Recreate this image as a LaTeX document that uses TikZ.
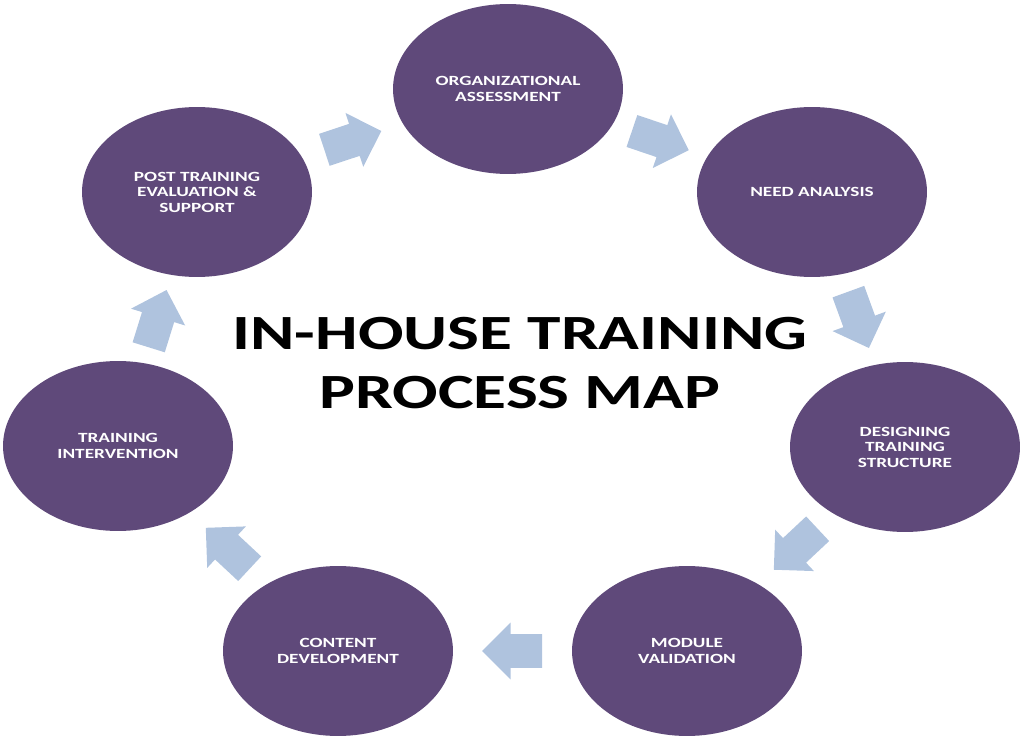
\documentclass[tikz,border=0pt]{standalone}
\usepackage{fontspec}
\setmainfont{Carlito}[FakeStretch=1.37]
\usetikzlibrary{calc,shapes.geometric,shapes.arrows}
\definecolor{stagepurple}{HTML}{5F497A}
\definecolor{flowblue}{HTML}{AFC3DE}

\begin{document}
\begin{tikzpicture}[x=0.02cm,y=-0.02cm,
  stage/.style={ellipse,fill=stagepurple,minimum width=4.6cm,minimum height=3.4cm,
    inner sep=0pt,align=center,text=white,font=\bfseries\fontsize{8}{8.8}\selectfont},
  flow/.style={single arrow,fill=flowblue,minimum height=1.2cm,inner xsep=0pt,
    inner ysep=0.33cm,single arrow head extend=0.23cm,sloped,allow upside down}]
  \useasboundingbox (0,0) rectangle (1024,743);
  % stages round the ring
  \foreach \n/\x/\y/\lbl in {org/508/89/{ORGANIZATIONAL\\ASSESSMENT},
      need/812/192/{NEED ANALYSIS},
      design/905/447/{DESIGNING\\TRAINING\\STRUCTURE},
      module/687/651/{MODULE\\VALIDATION},
      content/338/651/{CONTENT\\DEVELOPMENT},
      training/118/446/{TRAINING\\INTERVENTION},
      post/197/192/{POST TRAINING\\EVALUATION \&\\SUPPORT}}
    \node[stage] (\n) at (\x,\y) {\lbl};
  % block arrows between stages, centred half way
  \foreach \a/\b in {post/org,org/need,need/design,design/module,
      module/content,content/training,training/post}
    \path ($(\a.center)!0.5!(\b.center)$) coordinate (mid)
      ($(mid)!-0.6cm!(\b.center)$) -- node[flow,pos=0,anchor=tail] {} (\b.center);
  \node[font=\bfseries\fontsize{28}{34}\selectfont,align=center] (title) at (520,363)
    {IN-HOUSE TRAINING\\PROCESS MAP};
\end{tikzpicture}
\end{document}
